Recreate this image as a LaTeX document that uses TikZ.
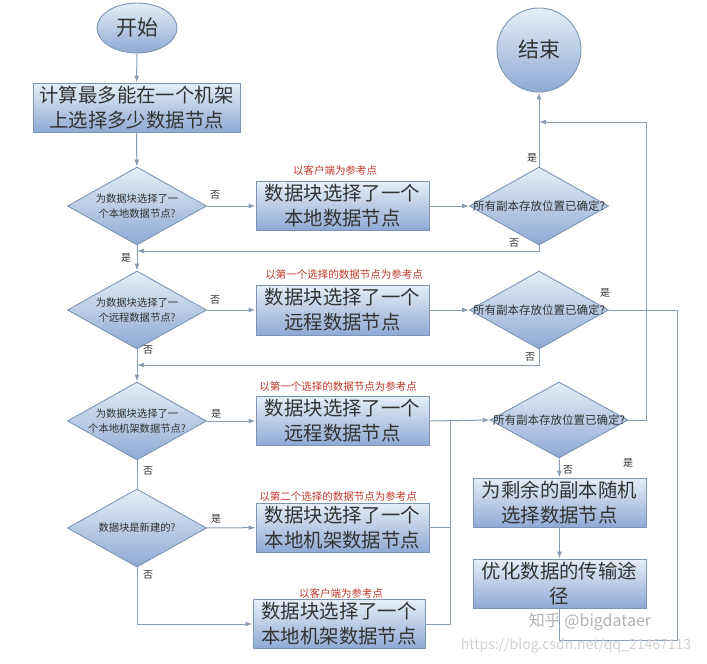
\documentclass[tikz,border=0pt]{standalone}
\usepackage{fontspec}
\setmainfont{Noto Sans CJK SC}
\usetikzlibrary{shapes.geometric,arrows.meta}
\definecolor{bordc}{HTML}{7D95B5}
\definecolor{linec}{HTML}{8A9DB3}
\definecolor{topc}{HTML}{E6EEF8}
\definecolor{botc}{HTML}{8EAAD3}
\definecolor{redc}{HTML}{C0392B}
\definecolor{txtc}{HTML}{333333}
\tikzset{
  x=1pt,y=-1pt,
  fillgrad/.style={top color=topc,bottom color=botc,draw=bordc,line width=0.9pt},
  bigbox/.style={fillgrad,rectangle,minimum width=173pt,minimum height=49pt,inner sep=0pt,
    align=center,font=\fontsize{19.4}{25}\selectfont,text=txtc},
  dia/.style={fillgrad,diamond,aspect=1.78,minimum width=139pt,minimum height=78pt,inner sep=0pt},
  dtext/.style={align=center,font=\fontsize{10.3}{15}\selectfont,text=txtc,inner sep=0pt},
  rtext/.style={align=center,font=\fontsize{11.5}{14}\selectfont,text=txtc,inner sep=0pt},
  redlab/.style={font=\fontsize{10.5}{12}\selectfont,text=redc,inner sep=0pt},
  yn/.style={font=\fontsize{10}{12}\selectfont,text=txtc,inner sep=0pt},
  conn/.style={draw=linec,line width=1pt},
  arr/.style={conn,-{Latex[length=7pt,width=5pt]}},
}
\begin{document}
\begin{tikzpicture}
\useasboundingbox[fill=white] (0,0) rectangle (707,664);
% terminals
\node[fillgrad,ellipse,minimum width=80pt,minimum height=50pt,inner sep=0pt,
  font=\fontsize{21}{24}\selectfont,text=txtc] (start) at (137,28) {开始};
\node[fillgrad,circle,minimum size=84pt,inner sep=0pt,
  font=\fontsize{21}{24}\selectfont,text=txtc] (end) at (539,50) {结束};
% left column
\node[bigbox,minimum width=207pt] (calc) at (136.5,107.5) {计算最多能在一个机架\\上选择多少数据节点};
\node[dia] (d1) at (137,206) {};
\node[dtext] at (d1) {为数据块选择了一\\个本地数据节点?};
\node[dia] (d2) at (137,310) {};
\node[dtext] at (d2) {为数据块选择了一\\个远程数据节点?};
\node[dia] (d3) at (137,421) {};
\node[dtext] at (d3) {为数据块选择了一\\个本地机架数据节点?};
\node[dia] (d4) at (137,528) {};
\node[dtext] at (d4) {数据块是新建的?};
% middle column
\node[bigbox] (b1) at (342.5,206) {数据块选择了一个\\本地数据节点};
\node[bigbox,minimum height=50pt] (b2) at (342.5,310) {数据块选择了一个\\远程数据节点};
\node[bigbox] (b3) at (342.5,421) {数据块选择了一个\\远程数据节点};
\node[bigbox] (b4) at (342.5,527.5) {数据块选择了一个\\本地机架数据节点};
\node[bigbox,minimum width=172pt] (b5) at (339,624) {数据块选择了一个\\本地机架数据节点};
% red labels
\node[redlab] (l1) at (335,170) {以客户端为参考点};
\node[redlab] (l2) at (344,275) {以第一个选择的数据节点为参考点};
\node[redlab] (l3) at (338,387) {以第一个选择的数据节点为参考点};
\node[redlab] (l4) at (338,497) {以第二个选择的数据节点为参考点};
\node[redlab] (l5) at (341,593) {以客户端为参考点};
% right column
\node[dia] (r1) at (539,206) {};
\node[rtext] at (r1) {所有副本存放位置已确定?};
\node[dia] (r2) at (539,310) {};
\node[rtext] at (r2) {所有副本存放位置已确定?};
\node[dia,minimum width=138pt,minimum height=76pt] (r3) at (559,420) {};
\node[rtext] at (r3) {所有副本存放位置已确定?};
\node[bigbox] (b6) at (559.5,502.5) {为剩余的副本随机\\选择数据节点};
\node[bigbox] (b7) at (559.5,583.5) {优化数据的传输途\\径};
% helper coordinates
\coordinate (m1) at (137,251);
\coordinate (m2) at (137,365);
\coordinate (j) at (450,421);
\coordinate (e1) at (539,122);
\coordinate (c1) at (646,122);
\coordinate (c2) at (677,640);
% connectors
\draw[arr] (start) -- (calc);
\draw[arr] (calc) -- (d1);
\draw[arr] (d1) -- (b1);
\draw[arr] (b1) -- (r1);
\draw[arr] (r1) -- (end);
\draw[arr] (r1.south) |- (m1);
\draw[arr] (d1) -- (d2);
\draw[arr] (d2) -- (b2);
\draw[arr] (b2) -- (r2);
\draw[arr] (r2.south) |- (m2);
\draw[arr] (d2) -- (d3);
\draw[conn] (r2.east) -| (c2) -| (b7.south);
\draw[arr] (d3) -- (b3);
\draw[arr] (b3.east) -- (r3.west);
\draw[conn] (b4.east) -| (j);
\draw[conn] (b5.east) -| (j);
\draw[conn] (r3.east) -| (c1);
\draw[arr] (c1) -- (e1);
\draw[arr] (r3) -- (b6);
\draw[arr] (b6) -- (b7);
\draw[conn] (d3) -- (d4);
\draw[arr] (d4) -- (b4);
\draw[arr] (d4.south) |- (b5.west);
% yes/no labels
\node[yn] at (215,195) {否};
\node[yn] at (532,158) {是};
\node[yn] at (514,243) {否};
\node[yn] at (126,258) {是};
\node[yn] at (215,300) {否};
\node[yn] at (605,293) {是};
\node[yn] at (530,357) {否};
\node[yn] at (148,350) {否};
\node[yn] at (216,414) {是};
\node[yn] at (148,471) {否};
\node[yn] at (568,470) {否};
\node[yn] at (628,463) {是};
\node[yn] at (216,519) {是};
\node[yn] at (148,575) {否};
% watermark
\node[font=\fontsize{16}{18}\selectfont,text=black!30,inner sep=0pt] (wm1) at (590,622) {知乎 @bigdataer};
\node[font=\fontsize{14}{16}\selectfont,text=black!18,inner sep=0pt] (wm2) at (576,646) {https://blog.csdn.net/qq\_21467113};
\end{tikzpicture}
\end{document}
